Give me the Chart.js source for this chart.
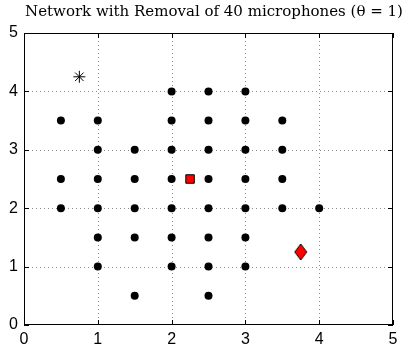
<!DOCTYPE html>
<html>
<head>
<meta charset="utf-8">
<script src="https://cdn.jsdelivr.net/npm/chart.js@4.4.1/dist/chart.umd.min.js"></script>
<style>
  html, body { margin: 0; padding: 0; background: #fff; }
  #wrap { width: 412px; height: 350px; }
</style>
</head>
<body>
<div id="wrap"><canvas id="c" width="412" height="350"></canvas></div>
<script>
// microphone positions left after removal
var micX = [0.5, 0.5, 0.5,
            1, 1, 1, 1, 1, 1,
            1.5, 1.5, 1.5, 1.5, 1.5,
            2, 2, 2, 2, 2, 2, 2,
            2.5, 2.5, 2.5, 2.5, 2.5, 2.5, 2.5, 2.5,
            3, 3, 3, 3, 3, 3, 3,
            3.5, 3.5, 3.5, 3.5,
            4];
var micY = [3.5, 2.5, 2,
            3.5, 3, 2.5, 2, 1.5, 1,
            3, 2.5, 2, 1.5, 0.5,
            4, 3.5, 3, 2.5, 2, 1.5, 1,
            4, 3.5, 3, 2.5, 2, 1.5, 1, 0.5,
            4, 3.5, 3, 2.5, 2, 1.5, 1,
            3.5, 3, 2.5, 2,
            2];
var squareX = [2.25], squareY = [2.5];
var diamondX = [3.75], diamondY = [1.25];
var starX = [0.75], starY = [4.25];
var tickVals = [0, 1, 2, 3, 4, 5];
var titleText = 'Network with Removal of 40 microphones (\u03b8 = 1)';

function pts(xs, ys) {
    var out = [];
    for (var i = 0; i < xs.length; i++) out.push({x: xs[i], y: ys[i]});
    return out;
}

// tall diamond marker
var dia = document.createElement('canvas');
dia.width = 14; dia.height = 18;
var dc = dia.getContext('2d');
dc.beginPath();
dc.moveTo(7, 1); dc.lineTo(13, 9); dc.lineTo(7, 17); dc.lineTo(1, 9); dc.closePath();
dc.fillStyle = '#ff0000'; dc.fill();
dc.lineWidth = 1; dc.strokeStyle = '#000'; dc.stroke();

// dotted grid under the points, box, inward ticks and title on top
var frame = {
    id: 'frame',
    beforeDatasetsDraw: function(chart) {
        var ctx = chart.ctx, a = chart.chartArea;
        var xs = chart.scales.x, ys = chart.scales.y;
        ctx.save();
        ctx.strokeStyle = '#8c8c8c';
        ctx.lineWidth = 1;
        ctx.setLineDash([1, 3]);
        ctx.beginPath();
        tickVals.slice(1, -1).forEach(function(v) {
            var px = Math.round(xs.getPixelForValue(v)) + 0.5;
            ctx.moveTo(px, a.top); ctx.lineTo(px, a.bottom);
            var py = Math.round(ys.getPixelForValue(v)) + 0.5;
            ctx.moveTo(a.left, py); ctx.lineTo(a.right, py);
        });
        ctx.stroke();
        ctx.restore();
    },
    afterDraw: function(chart) {
        var ctx = chart.ctx, a = chart.chartArea;
        var xs = chart.scales.x, ys = chart.scales.y;
        ctx.save();
        ctx.strokeStyle = '#000';
        ctx.lineWidth = 1;
        ctx.strokeRect(Math.round(a.left) + 0.5, Math.round(a.top) + 0.5,
                       Math.round(a.right - a.left) - 1, Math.round(a.bottom - a.top) - 1);
        ctx.beginPath();
        tickVals.forEach(function(v) {
            var px = Math.round(xs.getPixelForValue(v)) + 0.5;
            ctx.moveTo(px, a.bottom); ctx.lineTo(px, a.bottom - 5);
            ctx.moveTo(px, a.top); ctx.lineTo(px, a.top + 5);
            var py = Math.round(ys.getPixelForValue(v)) + 0.5;
            ctx.moveTo(a.left, py); ctx.lineTo(a.left + 5, py);
            ctx.moveTo(a.right, py); ctx.lineTo(a.right - 5, py);
        });
        ctx.stroke();
        ctx.fillStyle = '#000';
        ctx.font = '15px "DejaVu Serif"';
        ctx.textAlign = 'center';
        ctx.textBaseline = 'middle';
        ctx.fillText(titleText, 214, 12);
        ctx.restore();
    }
};

new Chart(document.getElementById('c'), {
    type: 'scatter',
    data: {
        datasets: [
            {data: pts(micX, micY), pointStyle: 'circle', pointRadius: 4,
             backgroundColor: '#000', borderColor: '#000', borderWidth: 0},
            {data: pts(squareX, squareY), pointStyle: 'rect', pointRadius: 6,
             backgroundColor: '#ff0000', borderColor: '#000', borderWidth: 1},
            {data: pts(diamondX, diamondY), pointStyle: dia},
            {data: pts(starX, starY), pointStyle: 'star', pointRadius: 6,
             backgroundColor: '#000', borderColor: '#000', borderWidth: 1}
        ]
    },
    options: {
        responsive: false,
        animation: false,
        layout: {padding: {left: 0, right: 19, bottom: 0, top: 33}},
        plugins: {
            legend: {display: false},
            tooltip: {enabled: false},
            title: {display: false}
        },
        scales: {
            x: {
                type: 'linear', min: 0, max: 5,
                ticks: {stepSize: 1, color: '#000', padding: 5,
                        font: {family: 'Liberation Sans', size: 16}},
                grid: {display: false, drawTicks: false},
                border: {display: false},
                afterFit: function(s) { s.height = 25; }
            },
            y: {
                type: 'linear', min: 0, max: 5,
                ticks: {stepSize: 1, color: '#000', padding: 6,
                        font: {family: 'Liberation Sans', size: 16}},
                grid: {display: false, drawTicks: false},
                border: {display: false},
                afterFit: function(s) { s.width = 24; }
            }
        }
    },
    plugins: [frame]
});
</script>
</body>
</html>
